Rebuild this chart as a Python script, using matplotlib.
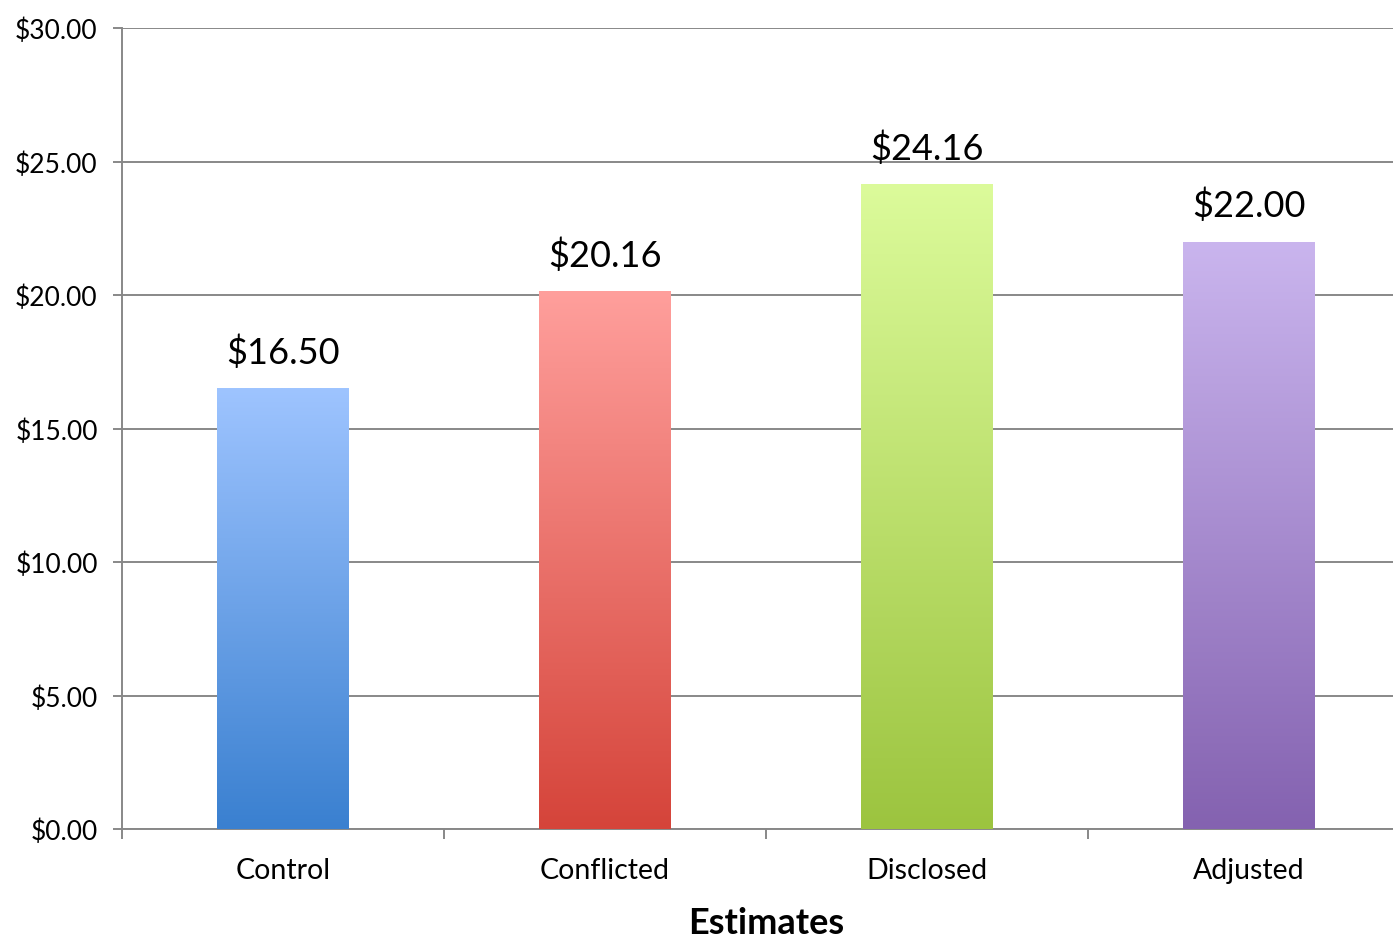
import numpy as np
import matplotlib.pyplot as plt
from matplotlib.colors import LinearSegmentedColormap

plt.rcParams['font.family'] = ['Lato', 'DejaVu Sans']

categories = ['Control', 'Conflicted', 'Disclosed', 'Adjusted']
values = [16.50, 20.16, 24.16, 22.00]
labels = ['$16.50', '$20.16', '$24.16', '$22.00']
yticks = [0, 5, 10, 15, 20, 25, 30]
ytick_labels = ['$0.00', '$5.00', '$10.00', '$15.00', '$20.00', '$25.00', '$30.00']
top_colors = ['#9EC4FF', '#FF9F9C', '#DCFB9B', '#CAB5EE']
bottom_colors = ['#3A80D0', '#D5443A', '#9CC43F', '#8462B0']

fig = plt.figure(figsize=(13.93, 9.37), dpi=100)
ax = fig.add_axes([122/1393, 107/937, 1288/1393, 801/937])

x = np.arange(len(categories))
bars = ax.bar(x, values, width=0.407, color='none', zorder=3)

# gradient fill, clipped to each bar
grad = np.linspace(0, 1, 256).reshape(-1, 1)
for b, c1, c2 in zip(bars, top_colors, bottom_colors):
    cmap = LinearSegmentedColormap.from_list('g', [c2, c1])
    im = ax.imshow(grad, cmap=cmap, aspect='auto', origin='lower',
                   extent=[b.get_x(), b.get_x() + b.get_width(), 0, b.get_height()],
                   zorder=3)
    im.set_clip_path(b)

for xi, v, t in zip(x, values, labels):
    ax.text(xi, v + 0.72, t, ha='center', va='bottom', fontsize=26, color='black')

ax.set_xlim(-0.5, 3.5)
ax.set_ylim(0, 30)
ax.set_yticks(yticks)
ax.set_yticklabels(ytick_labels, fontsize=19)
ax.yaxis.grid(True, color='#888888', linewidth=1.4, zorder=0)
ax.set_axisbelow(True)

ax.set_xticks(x)
ax.set_xticklabels(categories, fontsize=20.5)
ax.set_xticks(np.arange(-0.5, 4.0, 1.0), minor=True)
ax.tick_params(axis='x', which='major', length=0, pad=20.5)
ax.tick_params(axis='x', which='minor', length=7, width=1.4, color='#888888')
ax.tick_params(axis='y', length=6.5, width=1.4, color='#888888', pad=11)
ax.set_xlabel('Estimates', fontsize=26, fontweight='bold', labelpad=16)

for s in ['top', 'right']:
    ax.spines[s].set_visible(False)
for s in ['left', 'bottom']:
    ax.spines[s].set_color('#888888')
    ax.spines[s].set_linewidth(1.4)

fig.savefig('out.png', dpi=100)
